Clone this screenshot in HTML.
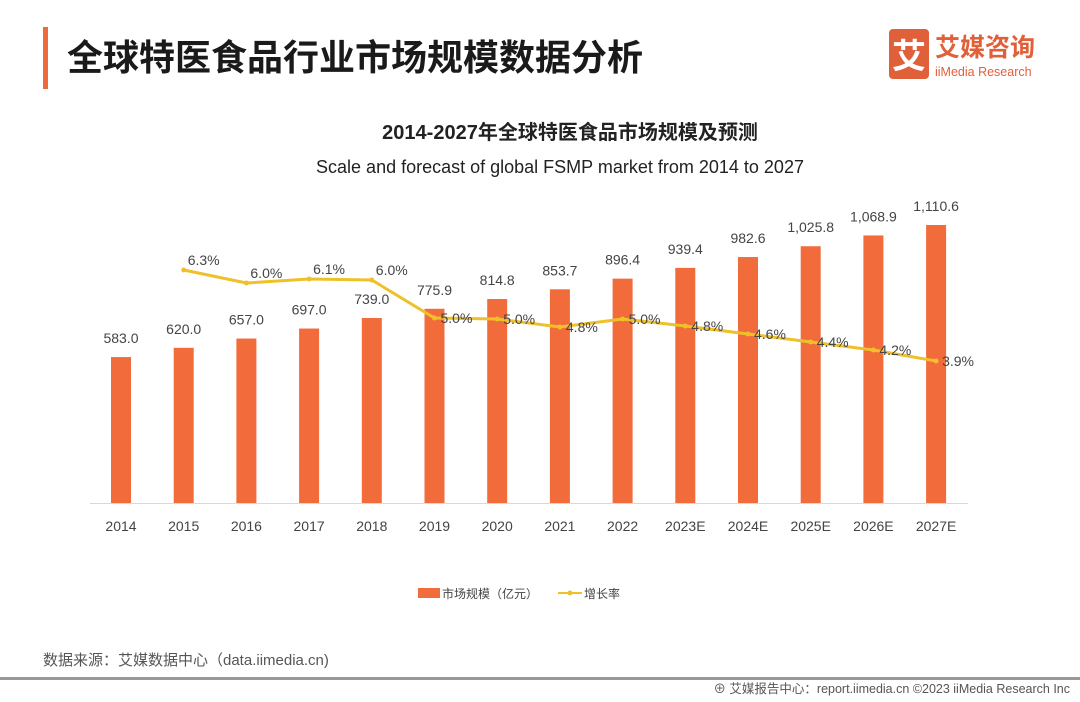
<!DOCTYPE html>
<html><head><meta charset="utf-8"><style>
body{margin:0;background:#fff;width:1080px;height:702px;overflow:hidden}
svg{display:block;font-family:"Liberation Sans","Noto Sans CJK SC",sans-serif}
</style></head><body>
<svg width="1080" height="702" viewBox="0 0 1080 702">
<rect x="43" y="27" width="5" height="62" fill="#ee6a3c"/>
<text x="67" y="70" font-size="36" font-weight="bold" fill="#1a1a1a">全球特医食品行业市场规模数据分析</text>
<rect x="889" y="29" width="40" height="50" rx="4" fill="#e0603a"/>
<text x="909" y="68" font-size="34" font-weight="bold" fill="#fff" text-anchor="middle">艾</text>
<text x="935" y="56" font-size="25" font-weight="bold" fill="#e0603a">艾媒咨询</text>
<text x="935" y="76" font-size="12.5" fill="#e0603a">iiMedia Research</text>
<text x="570" y="139" font-size="20" font-weight="bold" fill="#222" text-anchor="middle">2014-2027年全球特医食品市场规模及预测</text>
<text x="560" y="173" font-size="18" fill="#222" text-anchor="middle">Scale and forecast of global FSMP market from 2014 to 2027</text>
<line x1="90" y1="503.5" x2="968" y2="503.5" stroke="#d9d9d9" stroke-width="1"/>
<g id="bars" fill="#f26b3a"></g>
<g id="lbl" font-size="14" fill="#444" text-anchor="middle"></g>
<polyline id="ln" fill="none" stroke="#eec12a" stroke-width="3"/>
<g id="pts" fill="#eec12a"></g>
<g id="pl" font-size="14" fill="#444"></g>
<g id="xl" font-size="14" fill="#444" text-anchor="middle"></g>
<rect x="418" y="588" width="22" height="10" fill="#f26b3a"/>
<text x="442" y="598" font-size="12" fill="#444">市场规模（亿元）</text>
<line x1="558" y1="593" x2="582" y2="593" stroke="#eec12a" stroke-width="2"/>
<circle cx="570" cy="593" r="2.5" fill="#eec12a"/>
<text x="584" y="598" font-size="12" fill="#444">增长率</text>
<text x="43" y="665" font-size="15" fill="#555">数据来源：艾媒数据中心（data.iimedia.cn)</text>
<rect x="0" y="677" width="1080" height="3" fill="#999"/>
<text x="1070" y="693" font-size="12.5" fill="#555" text-anchor="end">⊕ 艾媒报告中心：report.iimedia.cn   ©2023  iiMedia Research  Inc</text>
</svg>
<script>
(function(){
var ns="http://www.w3.org/2000/svg";
var v=[583,620,657,697,739,775.9,814.8,853.7,896.4,939.4,982.6,1025.8,1068.9,1110.6];
var yrs=["2014","2015","2016","2017","2018","2019","2020","2021","2022","2023E","2024E","2025E","2026E","2027E"];
var lab=["583.0","620.0","657.0","697.0","739.0","775.9","814.8","853.7","896.4","939.4","982.6","1,025.8","1,068.9","1,110.6"];
var g=[null,6.3,6.0,6.1,6.0,5.0,5.0,4.8,5.0,4.8,4.6,4.4,4.2,3.9];
var gy=[null,270,283,279,280,318,319,327,319,326,334,342,350,361];
function el(p,t,a,txt){var e=document.createElementNS(ns,t);for(var k in a)e.setAttribute(k,a[k]);if(txt)e.textContent=txt;document.getElementById(p).appendChild(e);}
var pts=[];
for(var i=0;i<14;i++){
 var cx=121+i*62.7,h=v[i]*0.2503,by=503-h;
 el("bars","rect",{x:cx-10,y:by,width:20,height:h});
 el("lbl","text",{x:cx,y:by-14},lab[i]);
 el("xl","text",{x:cx,y:531},yrs[i]);
 if(g[i]!=null){pts.push(cx+","+gy[i]);el("pts","circle",{cx:cx,cy:gy[i],r:2.5});
  var dy=i<=4?-5:5, dx=i<=4?4:6;
  el("pl","text",{x:cx+dx,y:gy[i]+dy},g[i].toFixed(1)+"%");}
}
document.getElementById("ln").setAttribute("points",pts.join(" "));
})();
</script>
</body></html>
